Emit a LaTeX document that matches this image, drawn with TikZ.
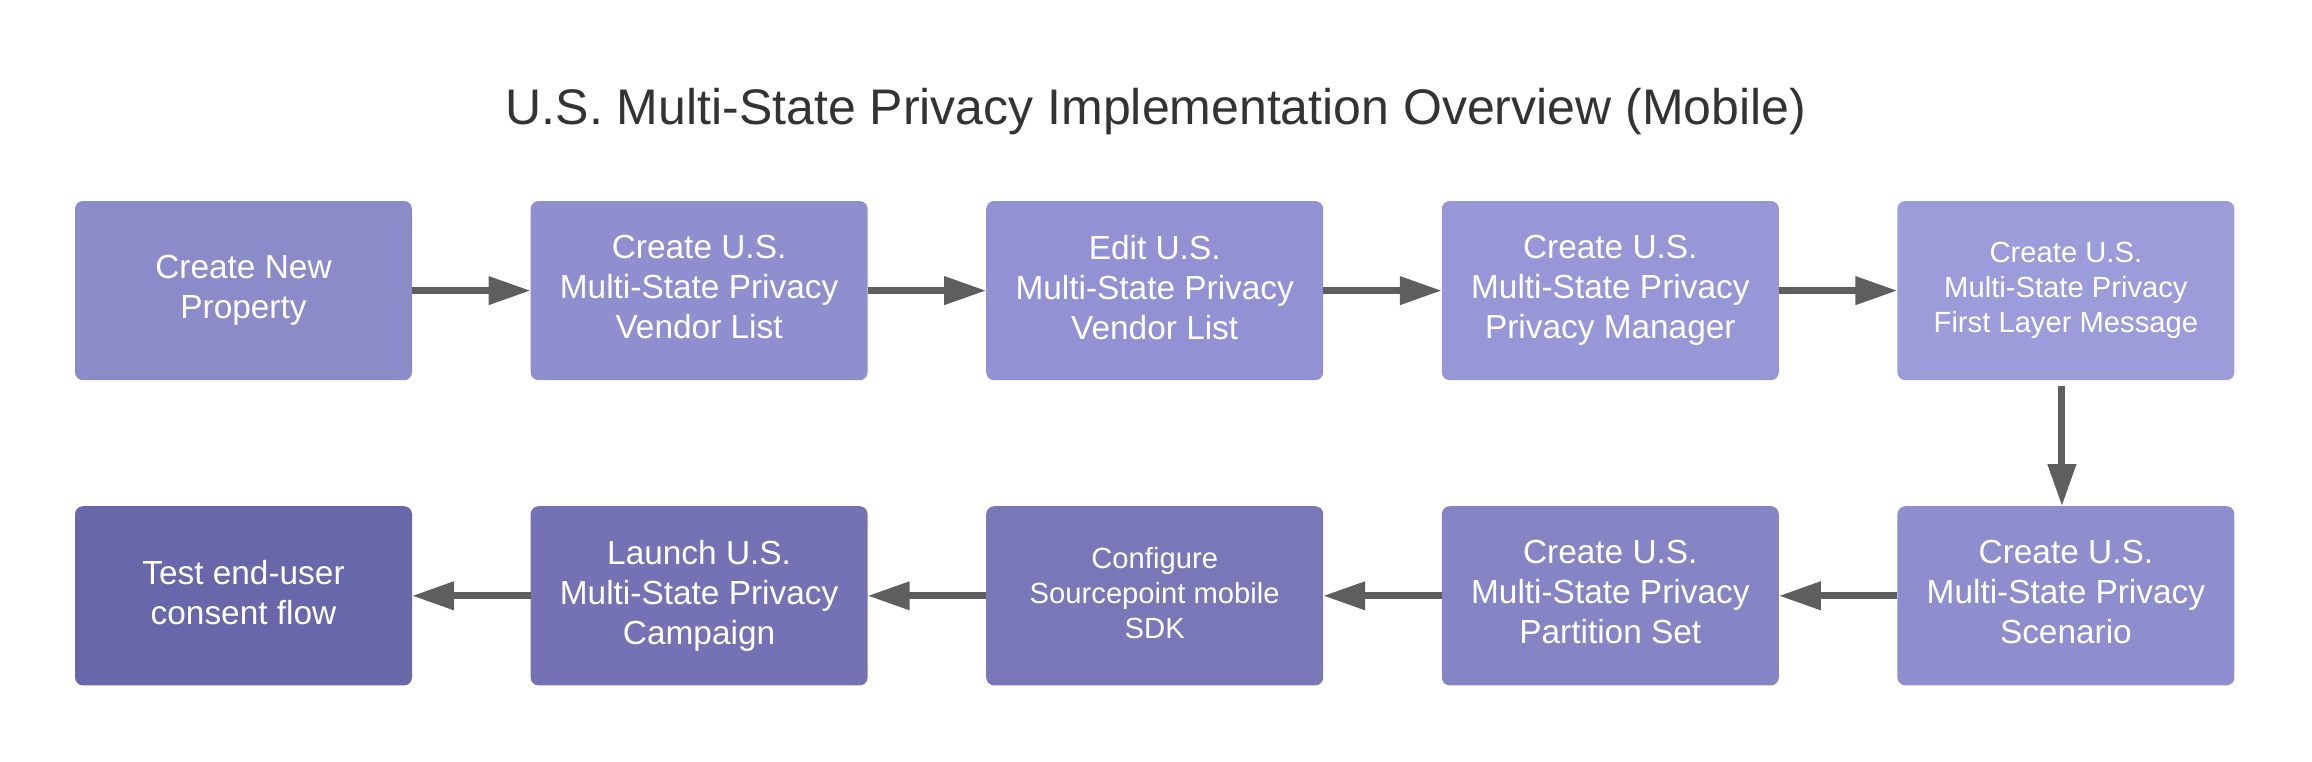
\documentclass[tikz,border=0pt]{standalone}
\usepackage{fontspec}
\setmainfont{Liberation Sans}
\usetikzlibrary{positioning}
\usetikzlibrary{arrows.meta}

\definecolor{titlegray}{HTML}{333333}
\definecolor{arrowgray}{HTML}{5E5E5E}
\definecolor{stepA}{HTML}{8B8BCA}
\definecolor{stepB}{HTML}{8F8ECF}
\definecolor{stepC}{HTML}{9291D3}
\definecolor{stepD}{HTML}{9796D7}
\definecolor{stepE}{HTML}{9D9CDB}
\definecolor{stepF}{HTML}{8E8DCE}
\definecolor{stepG}{HTML}{8584C5}
\definecolor{stepH}{HTML}{7977B8}
\definecolor{stepI}{HTML}{7471B4}
\definecolor{stepJ}{HTML}{6767A9}

\tikzset{
  stage/.style={rectangle, rounded corners=4pt, minimum width=168.5pt,
    minimum height=89.6pt, inner sep=0pt, outer sep=0pt, align=center,
    text=white, text depth=3.5pt, font=\fontsize{16.7}{20}\selectfont},
  stagesmall/.style={stage, text depth=3pt, font=\fontsize{14.6}{17.5}\selectfont},
  flow/.style={draw=arrowgray, line width=3.5pt,
    -{Triangle[length=21pt,width=13.5pt]}},
}

\begin{document}
\begin{tikzpicture}[x=0.5pt, y=-0.5pt]
\useasboundingbox (0,0) rectangle (2312,761);

\node[font=\fontsize{25}{30}\selectfont, text=titlegray] (title) at (1156,112)
  {U.S. Multi-State Privacy Implementation Overview (Mobile)};

% top row, left to right
\node[stage, fill=stepA, anchor=north west] (property) at (75,201) {Create New\\Property};
\node[stage, fill=stepB, right=59.3pt of property] (vendors) {Create U.S.\\Multi-State Privacy\\Vendor List};
\node[stage, fill=stepC, right=59.3pt of vendors] (editvendors) {Edit U.S.\\Multi-State Privacy\\Vendor List};
\node[stage, fill=stepD, right=59.3pt of editvendors] (manager) {Create U.S.\\Multi-State Privacy\\Privacy Manager};
\node[stagesmall, fill=stepE, right=59.3pt of manager] (message) {Create U.S.\\Multi-State Privacy\\First Layer Message};

% bottom row, right to left
\node[stage, fill=stepF, below=63pt of message] (scenario) {Create U.S.\\Multi-State Privacy\\Scenario};
\node[stage, fill=stepG, left=59.3pt of scenario] (partition) {Create U.S.\\Multi-State Privacy\\Partition Set};
\node[stagesmall, fill=stepH, left=59.3pt of partition] (sdk) {Configure\\Sourcepoint mobile\\SDK};
\node[stage, fill=stepI, left=59.3pt of sdk] (launch) {Launch U.S.\\Multi-State Privacy\\Campaign};
\node[stage, fill=stepJ, left=59.3pt of launch] (test) {Test end-user\\consent flow};

\draw[flow] (property) -- (vendors);
\draw[flow] (vendors) -- (editvendors);
\draw[flow] (editvendors) -- (manager);
\draw[flow] (manager) -- (message);
\draw[flow, shorten <=3pt] ([xshift=-2pt]message.south) -- ([xshift=-2pt]scenario.north);
\draw[flow] (scenario) -- (partition);
\draw[flow] (partition) -- (sdk);
\draw[flow] (sdk) -- (launch);
\draw[flow] (launch) -- (test);
\end{tikzpicture}
\end{document}
